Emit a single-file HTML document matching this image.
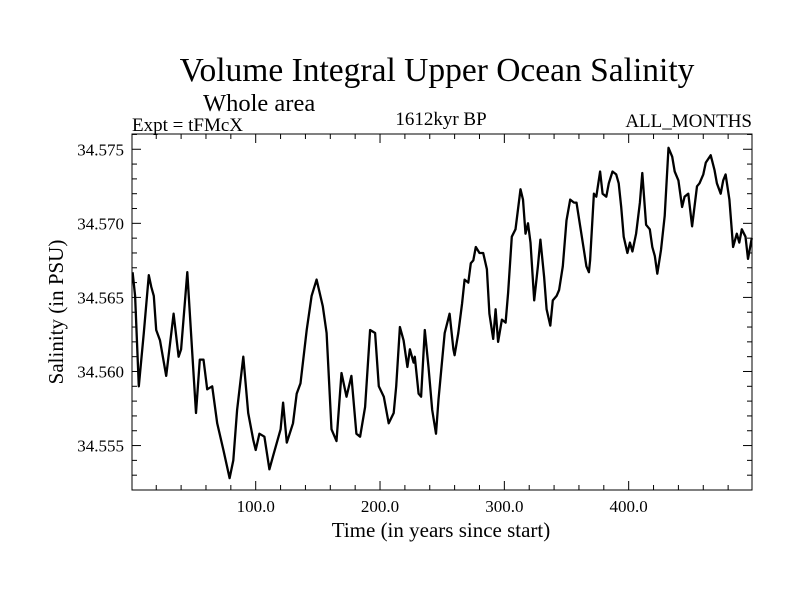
<!DOCTYPE html>
<html><head><meta charset="utf-8"><style>
html,body{margin:0;padding:0;background:#fff;}
svg{display:block;font-family:"Liberation Serif",serif;}
</style></head><body>
<svg id="chart" width="800" height="600" viewBox="0 0 800 600">
<rect width="800" height="600" fill="#fff"/>
<text x="437" y="81" font-size="33.5" text-anchor="middle">Volume Integral Upper Ocean Salinity</text>
<text x="203" y="111" font-size="24.5">Whole area</text>
<text x="132" y="131" font-size="19">Expt = tFMcX</text>
<text x="441" y="125" font-size="19" text-anchor="middle">1612kyr BP</text>
<text x="752" y="127" font-size="19" text-anchor="end">ALL_MONTHS</text>
<text x="441" y="537" font-size="21" text-anchor="middle">Time (in years since start)</text>
<text x="0" y="0" font-size="21" text-anchor="middle" transform="translate(63,312) rotate(-90)">Salinity (in PSU)</text>
<g id="axes"></g>
<path id="line" fill="none" stroke="#000" stroke-width="2.3" stroke-linejoin="round"/>
<rect x="132" y="134" width="620" height="356" fill="none" stroke="#000" stroke-width="1"/>
</svg>
<script>
const years=[1,3,6,10,14,16,18,20,23,28,34,38,40,45,49,52,55,58,61,65,69,74,79,82,85,90,94,98,100,103,107,111,114,120,122,125,130,133,136,141,145,149,154,157,161,165,169,173,177,181,184,188,192,196,199,203,207,211,213,216,219,222,224,227,228,231,233,236,239,242,245,247,250,252,256,259,260,263,266,268,271,273,275,277,280,283,286,288,291,293,295,298,301,303,306,309,313,315,317,319,321,324,327,329,332,334,337,339,342,344,347,350,353,356,358,361,364,366,368,369,372,374,377,379,382,384,387,390,392,394,396,399,401,403,406,409,411,414,417,419,421,423,426,429,432,435,437,440,443,445,448,451,455,457,460,462,466,469,471,474,476,478,481,484,487,489,491,494,496,499];
const salinity=[34.5667,34.5651,34.5590,34.5626,34.5665,34.5657,34.5651,34.5628,34.5621,34.5597,34.5639,34.5610,34.5615,34.5667,34.5612,34.5572,34.5608,34.5608,34.5588,34.5590,34.5565,34.5547,34.5528,34.5540,34.5574,34.5610,34.5572,34.5554,34.5547,34.5558,34.5556,34.5534,34.5543,34.5561,34.5579,34.5552,34.5565,34.5585,34.5592,34.5628,34.5651,34.5662,34.5644,34.5626,34.5561,34.5553,34.5599,34.5583,34.5597,34.5558,34.5556,34.5576,34.5628,34.5626,34.5590,34.5583,34.5565,34.5572,34.5590,34.5630,34.5621,34.5603,34.5615,34.5606,34.5610,34.5585,34.5583,34.5628,34.5603,34.5574,34.5558,34.5581,34.5608,34.5626,34.5639,34.5615,34.5611,34.5626,34.5646,34.5662,34.5660,34.5673,34.5675,34.5684,34.5680,34.5680,34.5669,34.5639,34.5622,34.5642,34.5620,34.5635,34.5633,34.5653,34.5691,34.5696,34.5723,34.5716,34.5693,34.5700,34.5687,34.5648,34.5671,34.5689,34.5664,34.5642,34.5631,34.5648,34.5651,34.5655,34.5671,34.5702,34.5716,34.5714,34.5714,34.5698,34.5682,34.5671,34.5667,34.5675,34.5720,34.5718,34.5735,34.5720,34.5718,34.5727,34.5735,34.5733,34.5727,34.5711,34.5691,34.5680,34.5687,34.5681,34.5693,34.5714,34.5734,34.5699,34.5696,34.5684,34.5678,34.5666,34.5682,34.5705,34.5751,34.5745,34.5735,34.5729,34.5711,34.5718,34.5720,34.5698,34.5725,34.5727,34.5733,34.5741,34.5746,34.5736,34.5727,34.5720,34.5729,34.5733,34.5716,34.5684,34.5693,34.5687,34.5696,34.5691,34.5676,34.5690];
const xTicks=[100,200,300,400];
const xTickLabels=["100.0","200.0","300.0","400.0"];
const yTicks=[34.555,34.560,34.565,34.570,34.575];
const yTickLabels=["34.555","34.560","34.565","34.570","34.575"];
const L=132,R=752,T=134,B=490;
const X0=0.5,X1=499.2,Y0=34.552,Y1=34.57603;
const sx=v=>L+(v-X0)/(X1-X0)*(R-L);
const sy=v=>B-(v-Y0)/(Y1-Y0)*(B-T);
const NS="http://www.w3.org/2000/svg";
const ax=document.getElementById('axes');
function ln(x1,y1,x2,y2,name){const l=document.createElementNS(NS,'line');l.setAttribute('x1',x1);l.setAttribute('y1',y1);l.setAttribute('x2',x2);l.setAttribute('y2',y2);l.setAttribute('stroke','#000');l.setAttribute('stroke-width','1');


ax.appendChild(l);}
function tx(x,y,s,anchor,name){const t=document.createElementNS(NS,'text');t.setAttribute('x',x);t.setAttribute('y',y);t.setAttribute('font-size','17');t.setAttribute('text-anchor',anchor);t.textContent=s;


ax.appendChild(t);}
for(let v=20;v<500;v+=20){const x=sx(v);const major=v%100===0;const len=major?9:5;ln(x,B,x,B-len,'x-tick');ln(x,T,x,T+len,'x-tick-top');}
xTicks.forEach((v,i)=>tx(sx(v),512,xTickLabels[i],'middle','x-tick-label'));
for(let k=0;k<=24;k++){const v=34.552+k*0.001;if(v>Y1)break;const y=sy(v);const major=(k+2)%5===0;const len=major?9:5;ln(L,y,L+len,y,'y-tick');ln(R,y,R-len,y,'y-tick-right');}
yTicks.forEach((v,i)=>tx(L-8,sy(v)+6,yTickLabels[i],'end','y-tick-label'));
document.getElementById('line').setAttribute('d',years.map((y,i)=>(i?'L':'M')+sx(y).toFixed(1)+' '+sy(salinity[i]).toFixed(1)).join(' '));
</script>
</body></html>
